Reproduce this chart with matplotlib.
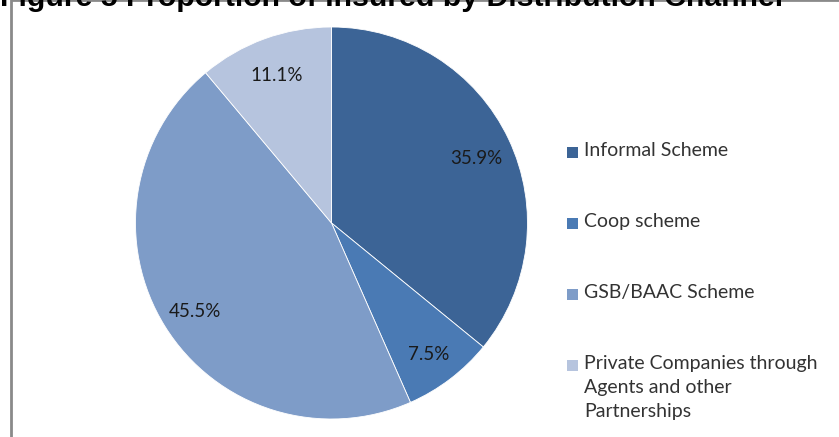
import matplotlib
matplotlib.use("Agg")
import matplotlib.pyplot as plt
from matplotlib.patches import Rectangle

# -------------------------------------------------------
# DATA
# -------------------------------------------------------
title = "Figure 5 Proportion of Insured by Distribution Channel"
channels = [
    "Informal Scheme",
    "Coop scheme",
    "GSB/BAAC Scheme",
    "Private Companies through\nAgents and other\nPartnerships",
]
shares = [35.9, 7.5, 45.5, 11.1]
colors = ["#3c6496", "#4a7ab4", "#7e9cc8", "#b6c4de"]

W, H = 839, 437
fig = plt.figure(figsize=(W / 100, H / 100), dpi=100)
renderer = fig.canvas.get_renderer()


def px(x, y):
    # pixel coords (from top-left) -> figure fraction
    return x / W, 1 - y / H


def fit_size(txt, target_w, **kw):
    # scale font size so text spans target_w pixels
    t = fig.text(0, 0, txt, fontsize=10, **kw)
    w = t.get_window_extent(renderer).width
    t.remove()
    return 10 * target_w / w


# -------------------------------------------------------
# TITLE (cropped at top, as in the source page) + FRAME
# -------------------------------------------------------
tsize = fit_size(title, 786, family="Liberation Sans", fontweight="bold")
fig.text(*px(0, 6), title, fontsize=tsize, family="Liberation Sans",
         fontweight="bold", color="black", va="baseline", ha="left")

fig.patches.append(Rectangle(px(11, 460), (W + 20) / W, 460 / H,
                             transform=fig.transFigure, fill=False,
                             edgecolor="#8a8a8a", linewidth=2.0))

# -------------------------------------------------------
# PIE
# -------------------------------------------------------
cx, cy, r = 331.5, 223, 196
ax = fig.add_axes([(cx - r) / W, (H - cy - r) / H, 2 * r / W, 2 * r / H])
lsize = fit_size("35.9%", 52, family="Lato")
wedges, _, autotexts = ax.pie(
    shares, colors=colors, startangle=90, counterclock=False,
    autopct="%.1f%%", pctdistance=0.82, radius=1,
    wedgeprops=dict(edgecolor="white", linewidth=0.6),
    textprops=dict(fontsize=lsize, family="Lato", color="#1a1a1a"),
)
for t in autotexts:
    x, y = t.get_position()
    t.set_position((x, y - 0.02))
ax.set_xlim(-1, 1)
ax.set_ylim(-1, 1)
ax.set_aspect("equal")
ax.axis("off")

# -------------------------------------------------------
# LEGEND (Excel style, square aligned with first line)
# -------------------------------------------------------
gsize = fit_size("Informal Scheme", 144, family="Lato")
leg_y0, leg_step = 153, 71
for i, (lab, col) in enumerate(zip(channels, colors)):
    y = leg_y0 + i * leg_step
    fig.patches.append(Rectangle(px(567, y + 5), 11 / W, 11 / H,
                                 transform=fig.transFigure,
                                 facecolor=col, edgecolor="none"))
    fig.text(*px(584, y - 11), lab, fontsize=gsize, family="Lato",
             color="#333333", va="top", ha="left", linespacing=1.5)

fig.savefig("out.png", dpi=100)
